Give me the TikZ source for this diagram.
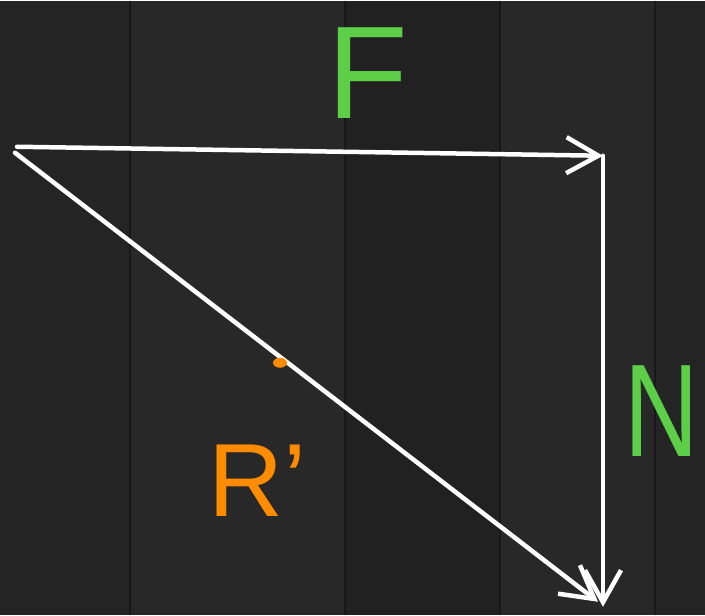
\documentclass[tikz,border=0pt]{standalone}
\usepackage{fontspec}
\usepackage{graphicx}
\setmainfont{Liberation Sans}
\usetikzlibrary{arrows.meta}
\definecolor{boardbg}{RGB}{36,36,36}
\definecolor{plankA}{RGB}{40,40,40}
\definecolor{plankB}{RGB}{33,33,33}
\definecolor{seam}{RGB}{24,24,24}
\definecolor{chalkgreen}{RGB}{92,206,72}
\definecolor{chalkorange}{RGB}{255,140,0}
\tikzset{
  vec/.style={draw=white,line width=4.5pt,line cap=round,
    -{Straight Barb[length=32pt,width=36pt,line width=4.5pt]}},
  glab/.style={font=\fontsize{132}{132}\selectfont,text=chalkgreen,inner sep=0pt},
  olab/.style={font=\fontsize{104}{104}\selectfont,text=chalkorange,inner sep=0pt},
}
\begin{document}
\begin{tikzpicture}[x=1pt,y=-1pt]
  % board
  \fill[boardbg] (0,0) rectangle (705,614);
  \fill[plankA] (130,0) rectangle (345,614);
  \fill[plankB] (345,0) rectangle (500,614);
  \fill[plankA] (500,0) rectangle (655,614);
  \draw[seam,line width=1.5pt] (130,0) -- (130,614);
  \draw[seam,line width=1.5pt] (345,0) -- (345,614);
  \draw[seam,line width=1.5pt] (500,0) -- (500,614);
  \draw[seam,line width=1.5pt] (655,0) -- (655,614);
  \useasboundingbox (0,0) rectangle (705,614);
  % points
  \coordinate (start) at (17,146);
  \coordinate (low) at (15,152);
  \coordinate (corner) at (603,155);
  \coordinate (bottom) at (603,606);
  \coordinate (tipR) at (598,601);
  % vectors
  \draw[vec] (start) -- (corner);
  \draw[vec] (corner) -- (bottom);
  \draw[vec] (low) -- (tipR);
  \fill[chalkorange] (280,362) ellipse (7 and 5);
  % labels
  \node[glab] (F) at (368,72) {F};
  \node[glab] (N) at (662,410) {\scalebox{0.78}[1]{N}};
  \node[olab] (R) at (258,480) {R'};
\end{tikzpicture}
\end{document}
